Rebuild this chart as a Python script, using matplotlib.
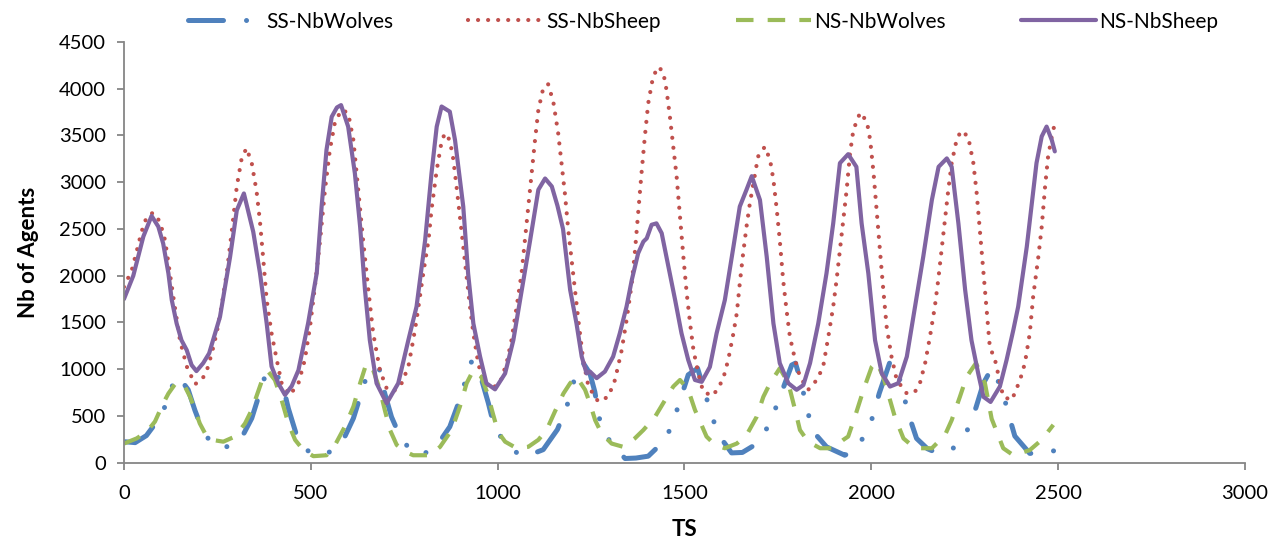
import matplotlib
matplotlib.use("Agg")
import matplotlib.pyplot as plt

# ---- data -----------------------------------------------------------------
ss_wolves_ts = [0, 30, 60, 90, 119, 136, 150, 172, 190, 212, 235, 255, 285, 312, 342, 377,
                400, 425, 440, 460, 480, 510, 536, 560, 587, 614, 649, 670, 685, 698, 716,
                740, 770, 800, 835, 872, 895, 930, 957, 975, 990, 1020, 1064, 1090, 1122,
                1160, 1185, 1216, 1230, 1247, 1260, 1274, 1300, 1341, 1370, 1403, 1450,
                1474, 1510, 1535, 1555, 1573, 1600, 1626, 1655, 1684, 1724, 1747, 1787,
                1797, 1813, 1827, 1845, 1880, 1929, 1950, 1977, 2004, 2021, 2050, 2068,
                2084, 2101, 2121, 2150, 2179, 2219, 2257, 2280, 2300, 2322, 2349, 2366,
                2384, 2424, 2460, 2491]
ss_wolves = [225, 215, 290, 450, 670, 915, 900, 780, 560, 330, 210, 155, 180, 245, 475, 920,
             1000, 830, 580, 320, 155, 90, 80, 140, 245, 475, 920, 1020, 990, 740, 490,
             270, 120, 90, 170, 385, 635, 1080, 890, 640, 400, 200, 70, 90, 140,
             355, 600, 1045, 1060, 955, 760, 440, 230, 45, 50, 70, 250,
             490, 940, 1010, 750, 490, 250, 105, 110, 180, 385, 615, 1045,
             1065, 850, 580, 330, 170, 80, 120, 260, 490, 740, 1080, 1025,
             760, 500, 260, 150, 100, 155, 350, 590, 850, 1010, 795, 535,
             285, 100, 100, 130]

ss_sheep_ts = [0, 21, 34, 47, 61, 78, 96, 110, 123, 136, 150, 168, 190, 208, 221, 235, 248,
               261, 275, 288, 302, 315, 328, 342, 355, 364, 373, 382, 395, 409, 422, 444,
               467, 484, 498, 511, 525, 538, 551, 565, 583, 600, 614, 627, 640, 654, 667,
               685, 703, 721, 743, 761, 774, 783, 801, 815, 823, 837, 850, 859, 872, 881,
               890, 899, 908, 917, 926, 935, 948, 962, 984, 1006, 1024, 1037, 1051, 1064,
               1073, 1082, 1091, 1100, 1109, 1122, 1135, 1149, 1162, 1171, 1180, 1189,
               1198, 1207, 1216, 1229, 1243, 1269, 1296, 1314, 1332, 1345, 1359, 1367,
               1376, 1385, 1394, 1403, 1416, 1430, 1443, 1452, 1461, 1470, 1479, 1488,
               1497, 1506, 1515, 1524, 1537, 1550, 1575, 1590, 1604, 1617, 1631, 1640,
               1648, 1657, 1666, 1675, 1689, 1697, 1715, 1729, 1738, 1747, 1755, 1764,
               1773, 1782, 1796, 1809, 1831, 1854, 1871, 1885, 1898, 1907, 1916, 1925,
               1934, 1943, 1952, 1970, 1988, 1997, 2006, 2014, 2023, 2032, 2041, 2054,
               2068, 2095, 2117, 2130, 2144, 2157, 2170, 2179, 2188, 2197, 2206, 2215,
               2228, 2240, 2259, 2273, 2282, 2291, 2300, 2309, 2317, 2331, 2353, 2376,
               2398, 2411, 2424, 2433, 2447, 2456, 2465, 2473, 2483, 2489]
ss_sheep = [1880, 2060, 2260, 2470, 2630, 2675, 2580, 2380, 2025, 1670, 1310, 1030, 840, 885,
            975, 1170, 1385, 1670, 2025, 2455, 2955, 3255, 3365, 3205, 2900, 2580, 2170,
            1740, 1385, 1100, 850, 725, 850, 1100, 1455, 1885, 2380, 2920, 3345, 3650,
            3775, 3740, 3450, 2920, 2380, 1850, 1385, 990, 795, 760, 850, 1025, 1310,
            1525, 2025, 2380, 2705, 3130, 3435, 3525, 3450, 3255, 2955, 2630, 2310, 1990,
            1670, 1385, 1065, 850, 795, 850, 1065, 1310, 1670, 2025, 2380, 2740, 3095,
            3450, 3775, 4005, 4050, 3860, 3525, 3205, 2880, 2490, 2170, 1850, 1525, 1100,
            815, 655, 705, 885, 1205, 1525, 1920, 2240, 2670, 3095, 3490, 3845, 4130,
            4235, 4180, 3985, 3700, 3380, 3060, 2630, 2205, 1810, 1490, 1205, 955, 760,
            715, 795, 905, 1100, 1385, 1600, 1920, 2240, 2525, 2775, 3095, 3275, 3380,
            3240, 3025, 2705, 2380, 1955, 1635, 1350, 1100, 920, 780, 885, 1025, 1350,
            1670, 1955, 2275, 2595, 2920, 3310, 3560, 3745, 3650, 3450, 3095, 2705, 2275,
            1850, 1455, 1135, 885, 740, 760, 850, 1065, 1350, 1670, 1955, 2275, 2595,
            2920, 3205, 3450, 3550, 3490, 3205, 2880, 2455, 2025, 1600, 1240, 1100, 705,
            670, 885, 1065, 1385, 1775, 2205, 2525, 2955, 3275, 3490, 3595]

ns_wolves_ts = [0, 34, 61, 83, 105, 119, 141, 163, 177, 190, 203, 217, 235, 266, 297, 324,
                342, 359, 373, 386, 404, 422, 440, 458, 480, 507, 542, 565, 591, 614, 632,
                649, 667, 685, 698, 712, 730, 752, 774, 819, 846, 877, 899, 917, 935, 956,
                973, 987, 1001, 1020, 1051, 1082, 1109, 1131, 1153, 1176, 1194, 1211, 1234,
                1247, 1261, 1278, 1305, 1336, 1367, 1390, 1421, 1448, 1470, 1488, 1510,
                1528, 1546, 1559, 1582, 1608, 1640, 1666, 1693, 1711, 1729, 1755, 1778,
                1796, 1809, 1831, 1863, 1898, 1925, 1938, 1956, 1979, 2001, 2014, 2032,
                2050, 2063, 2086, 2117, 2162, 2197, 2215, 2237, 2255, 2280, 2304, 2322,
                2353, 2380, 2424, 2456, 2487]
ns_wolves = [205, 260, 330, 440, 635, 740, 865, 815, 705, 565, 420, 315, 245, 225, 280, 420,
             565, 760, 920, 975, 885, 670, 420, 245, 135, 70, 80, 190, 385, 600, 850,
             1065, 990, 780, 565, 350, 190, 120, 80, 80, 170, 350, 600, 850, 990, 920,
             740, 530, 330, 225, 155, 170, 245, 350, 545, 740, 850, 920, 780,
             635, 455, 315, 205, 170, 260, 350, 490, 670, 815, 885, 780,
             565, 400, 280, 190, 155, 205, 295, 490, 705, 850, 1010, 850,
             565, 350, 225, 155, 155, 245, 280, 490, 780, 1025, 1080, 920,
             670, 490, 260, 155, 155, 295, 455, 705, 920, 1065, 850, 470,
             155, 80, 135, 245, 405]

ns_sheep_ts = [0, 25, 52, 74, 92, 105, 119, 128, 141, 154, 168, 181, 194, 212, 228, 257, 284,
               302, 321, 346, 364, 382, 395, 413, 431, 449, 467, 493, 516, 529, 542, 556,
               570, 581, 600, 618, 632, 645, 658, 676, 703, 734, 761, 783, 806, 823, 837,
               850, 872, 886, 908, 921, 935, 953, 970, 993, 1020, 1042, 1069, 1087, 1109,
               1127, 1145, 1160, 1175, 1194, 1211, 1225, 1238, 1247, 1265, 1287, 1309,
               1327, 1345, 1359, 1376, 1390, 1399, 1412, 1425, 1439, 1457, 1475, 1492,
               1510, 1528, 1546, 1568, 1586, 1608, 1631, 1648, 1666, 1680, 1702, 1720,
               1738, 1755, 1778, 1800, 1818, 1836, 1858, 1880, 1898, 1916, 1938, 1960,
               1974, 1992, 2010, 2028, 2050, 2072, 2095, 2117, 2139, 2162, 2180, 2202,
               2215, 2233, 2251, 2268, 2286, 2300, 2319, 2344, 2362, 2380, 2393, 2416,
               2442, 2456, 2469, 2483, 2491]
ns_sheep = [1750, 2000, 2420, 2640, 2525, 2345, 2025, 1740, 1490, 1310, 1205, 1045, 980, 1065,
            1170, 1560, 2200, 2700, 2880, 2470, 2030, 1490, 1030, 850, 725, 820, 990, 1495,
            2030, 2740, 3345, 3700, 3800, 3825, 3595, 3095, 2525, 1850, 1310, 850, 635,
            850, 1310, 1670, 2380, 3095, 3595, 3810, 3755, 3450, 2740, 2025, 1490, 1135,
            850, 785, 955, 1310, 1955, 2380, 2920, 3040, 2955, 2750, 2500, 1850, 1490,
            1135, 955, 975, 905, 975, 1135, 1385, 1670, 1955, 2240, 2365, 2400, 2545,
            2560, 2455, 2095, 1740, 1385, 1100, 885, 865, 1025, 1385, 1740, 2310, 2740,
            2920, 3065, 2810, 2205, 1490, 1065, 850, 780, 830, 1065, 1490, 2025, 2560,
            3205, 3300, 3165, 2560, 2025, 1310, 955, 815, 850, 1135, 1670, 2205, 2810,
            3165, 3255, 3165, 2560, 1850, 1310, 955, 705, 650, 815, 1100, 1420, 1670,
            2310, 3205, 3490, 3595, 3450, 3330]

series_names = ["SS-NbWolves", "SS-NbSheep", "NS-NbWolves", "NS-NbSheep"]
x_ticks = [0, 500, 1000, 1500, 2000, 2500, 3000]
y_ticks = [0, 500, 1000, 1500, 2000, 2500, 3000, 3500, 4000, 4500]

# ---- figure ---------------------------------------------------------------
plt.rcParams["font.family"] = ["Lato", "DejaVu Sans"]
fig = plt.figure(figsize=(12.83, 5.44), dpi=100)
ax = fig.add_axes([0.0966, 0.1494, 0.8738, 0.7734])

blue, red, green, purple = "#4F81BD", "#C0504D", "#9BBB59", "#8064A2"

ax.plot(ss_wolves_ts, ss_wolves, color=blue, lw=3.6, solid_capstyle="round",
        dash_capstyle="round", linestyle=(0, (7.0, 4.6, 0.01, 4.6, 0.01, 4.6)),
        label=series_names[0])
ax.plot(ss_sheep_ts, ss_sheep, color=red, lw=3.0, dash_capstyle="round",
        linestyle=(0, (0.01, 2.4)), label=series_names[1])
ax.plot(ns_wolves_ts, ns_wolves, color=green, lw=3.0, dash_capstyle="butt",
        linestyle=(0, (4.2, 3.4)), label=series_names[2])
ax.plot(ns_sheep_ts, ns_sheep, color=purple, lw=3.0, solid_joinstyle="round",
        solid_capstyle="round", label=series_names[3])

ax.set_xlim(0, 3000)
ax.set_ylim(0, 4500)
ax.set_xticks(x_ticks)
ax.set_yticks(y_ticks)

axis_gray = "#868686"
for side in ("top", "right"):
    ax.spines[side].set_visible(False)
for side in ("left", "bottom"):
    ax.spines[side].set_color(axis_gray)
    ax.spines[side].set_linewidth(1.3)
ax.tick_params(axis="both", direction="out", length=5, width=1.3, color=axis_gray,
               labelsize=14.5, labelcolor="black")
ax.tick_params(axis="x", pad=11)
ax.tick_params(axis="y", pad=8)

ax.set_xlabel("TS", fontsize=16, fontweight="bold", labelpad=12)
ax.set_ylabel("Nb of Agents", fontsize=16, fontweight="bold", labelpad=14)

leg = ax.legend(loc="lower center", bbox_to_anchor=(0.5165, 1.0), ncol=4, frameon=False,
                fontsize=15, handlelength=3.6, handletextpad=0.15, columnspacing=3.6,
                borderaxespad=0.1)

fig.savefig("out.png", dpi=100)
